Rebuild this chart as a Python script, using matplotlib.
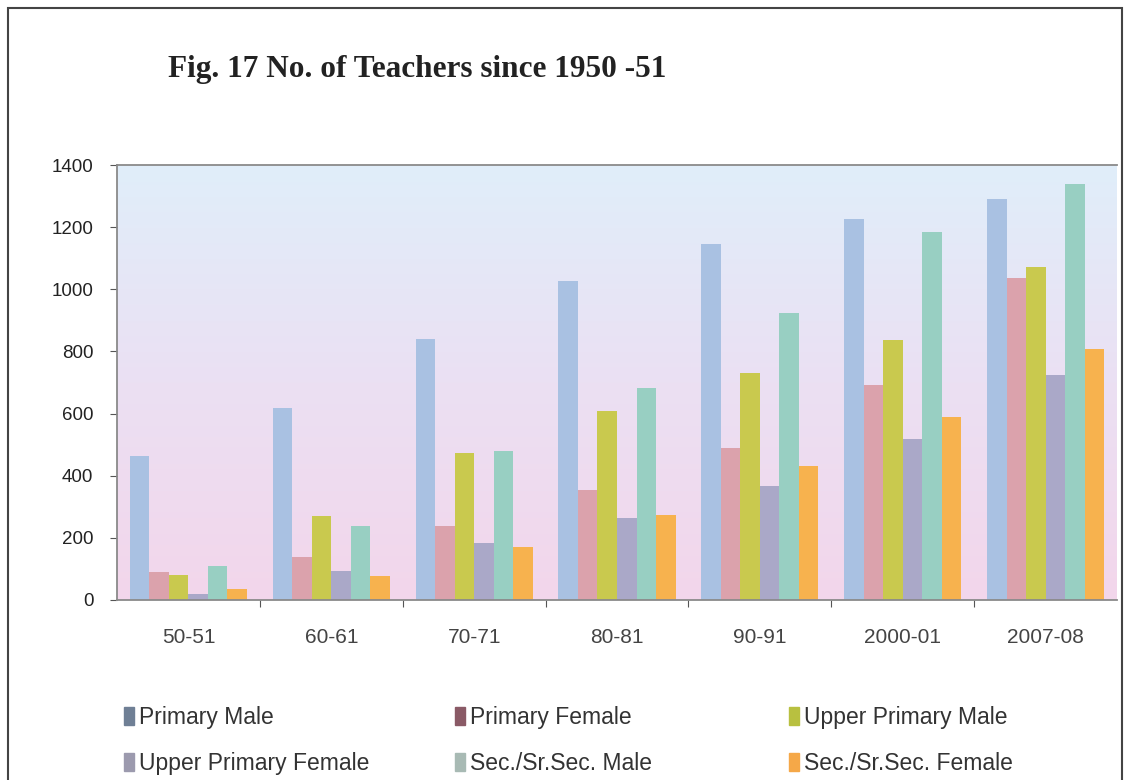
#Fig. 17 No. of Teachers since 1950-51

import matplotlib.pyplot as plt
import numpy as np
from matplotlib.colors import LinearSegmentedColormap
from matplotlib.patches import Rectangle, Patch

anios = ["50-51", "60-61", "70-71", "80-81", "90-91", "2000-01", "2007-08"]

primaria_h = [464, 619, 841, 1028, 1146, 1226, 1290]
primaria_m = [90, 139, 237, 355, 489, 692, 1037]
sup_primaria_h = [79, 269, 474, 608, 729, 836, 1073]
sup_primaria_m = [18, 92, 184, 264, 366, 517, 724]
secundaria_h = [111, 239, 480, 681, 923, 1185, 1338]
secundaria_m = [36, 77, 171, 272, 430, 590, 809]

series = [primaria_h, primaria_m, sup_primaria_h, sup_primaria_m, secundaria_h, secundaria_m]
nombres = ["Primary Male", "Primary Female", "Upper Primary Male",
           "Upper Primary Female", "Sec./Sr.Sec. Male", "Sec./Sr.Sec. Female"]
colores = ["#a9c1e2", "#dba2ac", "#c9c94e", "#aaa8c8", "#98cfc2", "#f7b24e"]
colores_ley = ["#6f7f95", "#8a5a66", "#b8c040", "#9c9aae", "#a8bab4", "#f5a848"]

plt.rcParams['font.family'] = ['Liberation Sans', 'DejaVu Sans']

fig = plt.figure(figsize=(11.25, 7.8), dpi=100)
fig.patch.set_facecolor("white")
ax = fig.add_axes([117/1125, 1 - 600/780, 1000/1125, 435/780])

#fondo degradado
fondo = LinearSegmentedColormap.from_list("fondo", ["#f3d6eb", "#ebe0f3", "#e0eefa"])
ax.imshow(np.linspace(0, 1, 256).reshape(-1, 1), extent=[-0.5, 6.5, 0, 1400],
          aspect="auto", cmap=fondo, origin="lower", zorder=0)

x = np.arange(len(anios))
ancho = 0.82 / 6
for i in range(6):
    ax.bar(x + (i - 2.5) * ancho, series[i], ancho, color=colores[i], zorder=2)

ax.set_xlim(-0.5, 6.5)
ax.set_ylim(0, 1400)
ax.set_yticks(range(0, 1401, 200))
ax.tick_params(axis="y", labelsize=13.5, colors="#555555", labelcolor="#222222",
               length=5, pad=12)
ax.set_xticks(np.arange(0.5, 6.5, 1))
ax.set_xticklabels([])
ax.set_xticks(x, minor=True)
ax.set_xticklabels(anios, minor=True)
ax.tick_params(axis="x", which="major", length=5, colors="#555555")
ax.tick_params(axis="x", which="minor", length=0, labelsize=15, labelcolor="#444444", pad=20)
for lado in ["left", "bottom", "top"]:
    ax.spines[lado].set_color("#8a8a8a")
    ax.spines[lado].set_linewidth(1.3)
ax.spines["right"].set_visible(False)

fig.text(168/1125, 1 - 70/780, "Fig. 17 No. of Teachers since 1950 -51",
         fontfamily="Liberation Serif", fontweight="bold", fontsize=22.5,
         color="#222222", va="center")

#leyenda en tres columnas
posiciones = [124, 455, 789]
for c in range(3):
    manijas = [Patch(color=colores_ley[c]), Patch(color=colores_ley[c + 3])]
    etiquetas = [nombres[c], nombres[c + 3]]
    fig.legend(manijas, etiquetas, loc="upper left",
               bbox_to_anchor=(posiciones[c]/1125, 1 - 706/780),
               frameon=False, fontsize=16.5, labelcolor="#333333",
               handlelength=0.45, handleheight=0.8, handletextpad=0.2,
               labelspacing=1.0, borderpad=0, borderaxespad=0)

fig.add_artist(Rectangle((8/1125, -0.01), 1114/1125, 1 - 8/780 + 0.01,
                         transform=fig.transFigure, fill=False,
                         edgecolor="#444444", linewidth=1.5))

plt.savefig("out.png", dpi=100)
